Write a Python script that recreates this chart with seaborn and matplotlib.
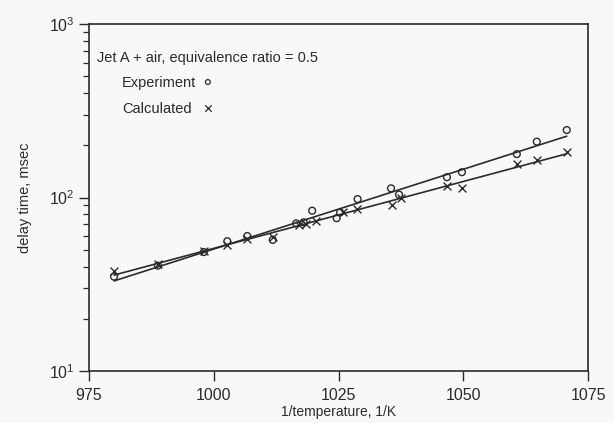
import numpy as np
import pandas as pd
import matplotlib
matplotlib.use("Agg")
import matplotlib.pyplot as plt
import seaborn as sns
from matplotlib.ticker import LogLocator, NullFormatter, FixedLocator

# Experimental ignition delay (circles)
exp_inv_temp = [980.0, 988.8, 998.0, 1002.7, 1006.7, 1011.8, 1016.5, 1018.0, 1019.7,
                1024.6, 1025.3, 1028.8, 1035.5, 1037.1, 1046.7, 1049.7, 1060.7, 1064.7, 1070.7]
exp_delay = [35, 40.5, 48.5, 56, 60, 57, 71, 72, 84,
             76, 82, 98, 113, 104, 131, 140, 178, 210, 245]

# Calculated ignition delay (crosses)
calc_inv_temp = [980.0, 988.8, 998.0, 1002.7, 1006.7, 1011.8, 1017.0, 1018.5, 1020.5,
                 1025.9, 1028.6, 1035.7, 1037.5, 1046.7, 1049.7, 1060.7, 1064.7, 1070.7]
calc_delay = [37.5, 41.5, 49.5, 53, 57.5, 59.5, 69.5, 70.5, 73,
              83, 86, 91, 100, 117, 113, 156, 165, 184]

x_ticks = [975, 1000, 1025, 1050, 1075]

exp_df = pd.DataFrame({"inv_temp": exp_inv_temp, "delay": exp_delay})
calc_df = pd.DataFrame({"inv_temp": calc_inv_temp, "delay": calc_delay})

sns.set_style("ticks")
plt.rcParams["font.family"] = ["Liberation Sans", "DejaVu Sans"]
plt.rcParams["mathtext.fontset"] = "custom"
plt.rcParams["mathtext.rm"] = "Liberation Sans"
plt.rcParams["mathtext.it"] = "Liberation Sans"
ink = "#2b2b2b"
paper = "#f8f8f6"

fig = plt.figure(figsize=(6.14, 4.23), dpi=100, facecolor=paper)
ax = fig.add_axes([0.145, 0.123, 0.813, 0.820])
ax.set_facecolor(paper)

# least-squares fits in log space, one per data set
for df in (exp_df, calc_df):
    k, b = np.polyfit(df["inv_temp"], np.log10(df["delay"]), 1)
    xs = np.array([df["inv_temp"].min(), df["inv_temp"].max()])
    ax.plot(xs, 10 ** (k * xs + b), color=ink, lw=1.2, zorder=2)

sns.scatterplot(data=exp_df, x="inv_temp", y="delay", ax=ax, marker="o", s=24,
                facecolor="none", edgecolor=ink, linewidth=1.0, zorder=3)
sns.scatterplot(data=calc_df, x="inv_temp", y="delay", ax=ax, marker="x", s=32,
                color=ink, linewidth=1.0, zorder=3)

ax.set_yscale("log")
ax.set_xlim(975, 1075)
ax.set_ylim(10, 1000)
ax.xaxis.set_major_locator(FixedLocator(x_ticks))
ax.set_xticklabels([str(t) for t in x_ticks])
ax.yaxis.set_major_locator(FixedLocator([10, 100, 1000]))
ax.set_yticklabels([r"$10^1$", r"$10^2$", r"$10^3$"])
ax.yaxis.set_minor_locator(LogLocator(base=10, subs=np.arange(2, 10)))
ax.yaxis.set_minor_formatter(NullFormatter())

for s in ax.spines.values():
    s.set_color(ink)
    s.set_linewidth(1.2)
ax.tick_params(axis="both", which="major", length=7, width=1.0, color=ink,
               labelcolor=ink, labelsize=11.5, direction="out")
ax.tick_params(axis="y", which="minor", length=4, width=0.9, color=ink)
ax.tick_params(axis="x", pad=5)

ax.set_xlabel("1/temperature, 1/K", fontsize=10, color=ink, labelpad=2)
ax.set_ylabel("delay time, msec", fontsize=10.5, color=ink, labelpad=12)

ax.text(0.016, 0.902, "Jet A + air, equivalence ratio = 0.5", transform=ax.transAxes,
        fontsize=10.5, color=ink, va="center")
ax.text(0.066, 0.830, "Experiment", transform=ax.transAxes, fontsize=10.5, color=ink, va="center")
ax.text(0.066, 0.755, "Calculated", transform=ax.transAxes, fontsize=10.5, color=ink, va="center")
ax.scatter([0.238], [0.833], transform=ax.transAxes, marker="o", s=12,
           facecolor="none", edgecolor=ink, linewidth=0.9)
ax.scatter([0.238], [0.758], transform=ax.transAxes, marker="x", s=22,
           color=ink, linewidth=0.9)

fig.savefig("out.png", dpi=100, facecolor=paper)
